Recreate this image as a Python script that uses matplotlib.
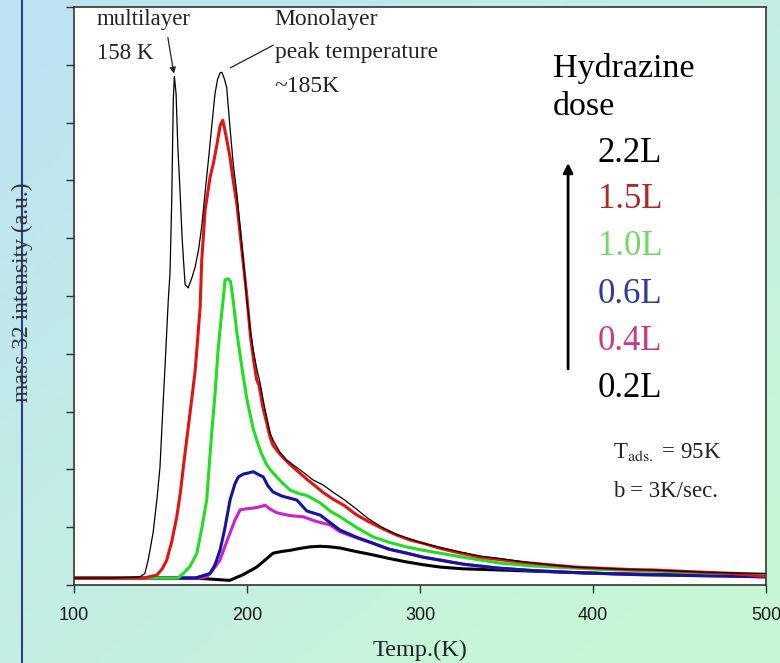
import numpy as np
import matplotlib
matplotlib.use("Agg")
import matplotlib.pyplot as plt
from matplotlib.lines import Line2D
from matplotlib.colors import to_rgb

plt.rcParams['font.family'] = ['Liberation Serif', 'DejaVu Serif']
plt.rcParams['mathtext.fontset'] = 'stix'

# TPD spectra, mass 32, for each hydrazine dose
T_22 = [100, 120, 138, 141, 143, 145.7, 148, 149.7, 151.6, 152.6, 154.5, 155.5, 156.5, 157.4, 158,
        159, 160, 161.3, 162.5, 164.2, 166, 168, 170, 172, 173.8, 175.8, 177.7, 179.5, 181.5, 183,
        184.4, 185.5, 187, 188.3, 190.2, 192, 194.1, 196, 197.9, 199.9, 202, 203.6, 205.6, 207.6, 210,
        213.4, 215, 219, 223, 228, 233, 238, 244, 250, 256, 263, 270, 278, 286, 294, 302, 312, 322,
        335, 346, 360, 375, 390, 405, 420, 435, 450, 465, 480, 500]
I_22 = [0.12, 0.12, 0.14, 0.2, 0.45, 0.9, 1.5, 2.04, 3.2, 3.77, 4.93, 5.4, 6.66, 8.4, 8.8,
        8.5, 7.6, 6.8, 6.0, 5.2, 5.14, 5.3, 5.5, 5.8, 6.2, 6.8, 7.35, 7.9, 8.5, 8.75,
        8.86, 8.87, 8.75, 8.6, 7.9, 7.3, 6.78, 6.2, 5.62, 4.93, 4.4, 4.07, 3.75, 3.49, 3.1,
        2.63, 2.51, 2.3, 2.16, 2.05, 1.94, 1.82, 1.73, 1.6, 1.48, 1.32, 1.15, 1.0, 0.88, 0.8, 0.72, 0.65, 0.58,
        0.5, 0.46, 0.4, 0.35, 0.31, 0.29, 0.27, 0.26, 0.24, 0.22, 0.21, 0.2]

T_15 = [100, 140, 147.8, 151, 153.6, 156.5, 159.4, 161.5, 163.2, 165.5, 168, 170, 171, 172.9, 173.8,
        175.8, 178.7, 180.6, 182.5, 184.5, 186, 187, 188, 190.2, 192, 194.1, 197, 199.9, 202, 204,
        205.6, 207, 209, 211, 213.4, 215, 218, 221, 225, 230, 235, 240, 244, 250, 256, 263, 270, 278,
        286, 294, 302, 312, 322, 335, 346, 360, 375, 390, 405, 420, 435, 450, 465, 480, 500]
I_15 = [0.12, 0.12, 0.17, 0.28, 0.43, 0.75, 1.18, 1.6, 2.04, 2.6, 3.2, 3.7, 4.07, 4.8, 5.6,
        6.49, 7.06, 7.3, 7.6, 7.95, 8.04, 7.9, 7.75, 7.4, 7.0, 6.6, 5.8, 5.0, 4.3, 3.85,
        3.55, 3.45, 3.1, 2.85, 2.55, 2.42, 2.3, 2.2, 2.08, 1.95, 1.82, 1.7, 1.6, 1.48, 1.38, 1.22, 1.1, 0.98,
        0.87, 0.78, 0.72, 0.63, 0.56, 0.48, 0.44, 0.39, 0.35, 0.31, 0.29, 0.27, 0.26, 0.24, 0.22, 0.2, 0.15]

T_10 = [100, 160, 163.2, 167, 171, 174, 176.7, 178, 179.6, 181.5, 183.3, 185, 186.2, 187.3, 189,
        190.5, 192, 194, 197, 200, 203.6, 205.6, 208, 211, 213.4, 215, 220, 225, 230, 234.6, 242.3,
        248, 253.8, 263, 273, 282, 292, 302, 311.7, 325, 346, 365, 385, 405, 425, 445, 465, 485, 500]
I_10 = [0.12, 0.12, 0.2, 0.32, 0.55, 1.0, 1.47, 2.0, 2.63, 3.3, 4.07, 4.6, 4.93, 5.28, 5.3,
        5.25, 4.93, 4.4, 3.77, 3.2, 2.7, 2.51, 2.3, 2.1, 2.0, 1.94, 1.78, 1.64, 1.58, 1.55, 1.42,
        1.28, 1.18, 1.0, 0.83, 0.74, 0.66, 0.6, 0.55, 0.48, 0.38, 0.33, 0.3, 0.27, 0.25, 0.23, 0.21, 0.2, 0.18]

T_06 = [100, 170, 178.7, 181.5, 184.4, 187, 190.2, 193, 195, 198, 201, 203.7, 206, 209.4, 212,
        215, 220, 228.8, 234.6, 242.3, 248, 253.8, 263, 273, 282, 292.4, 302, 311.7, 325, 346,
        365, 385, 405, 425, 445, 465, 485, 500]
I_06 = [0.12, 0.12, 0.2, 0.35, 0.6, 0.95, 1.47, 1.75, 1.87, 1.92, 1.94, 1.96, 1.92, 1.87, 1.72,
        1.61, 1.54, 1.47, 1.28, 1.21, 1.08, 0.95, 0.83, 0.72, 0.62, 0.55, 0.48, 0.43, 0.36, 0.29,
        0.25, 0.22, 0.2, 0.18, 0.17, 0.16, 0.15, 0.14]

T_04 = [100, 172, 176.7, 180, 184.4, 187, 190.2, 193, 196, 200, 203.6, 207, 210.5, 213, 217.2,
        225, 232.5, 240, 248, 253.8, 263, 273, 282, 292.4, 302, 311.7, 325, 346, 365, 385, 405,
        425, 445, 465, 485, 500]
I_04 = [0.12, 0.12, 0.14, 0.25, 0.43, 0.65, 0.9, 1.12, 1.3, 1.32, 1.33, 1.35, 1.38, 1.32, 1.25,
        1.2, 1.18, 1.1, 1.04, 0.92, 0.82, 0.72, 0.62, 0.55, 0.48, 0.43, 0.36, 0.29, 0.25, 0.22, 0.2,
        0.18, 0.17, 0.16, 0.15, 0.14]

T_02 = [100, 170, 180, 190, 197.8, 205.6, 210, 215, 220, 225, 230, 236.5, 242.3, 248, 253.8,
        263, 273, 282, 292, 302, 311.7, 325, 346, 365, 385, 405, 425, 445, 465, 485, 500]
I_02 = [0.12, 0.12, 0.1, 0.08, 0.18, 0.31, 0.42, 0.55, 0.58, 0.6, 0.63, 0.66, 0.67, 0.66, 0.64,
        0.58, 0.52, 0.46, 0.4, 0.35, 0.31, 0.28, 0.26, 0.24, 0.22, 0.2, 0.19, 0.18, 0.17, 0.16, 0.15]

doses = ['2.2L', '1.5L', '1.0L', '0.6L', '0.4L', '0.2L']
label_colors = ['black', '#b02828', '#7ad46a', '#2d3a9a', '#c8388f', 'black']

fig = plt.figure(figsize=(7.8, 6.63), dpi=100)

# gradient background, light blue top-left to light green bottom-right
bg = fig.add_axes([0, 0, 1, 1], zorder=-5)
gx, gy = np.meshgrid(np.linspace(0, 1, 200), np.linspace(0, 1, 200))
t = np.clip(0.55 * gx + 0.6 * gy, 0, 1)[..., None]
c1 = np.array(to_rgb('#bde2f4'))
c2 = np.array(to_rgb('#c8f7d6'))
bg.imshow(c1 * (1 - t) + c2 * t, extent=[0, 1, 0, 1], aspect='auto', origin='upper')
bg.axis('off')

ax = fig.add_axes([74 / 780, 78 / 663, 692 / 780, 578 / 663])
ax.set_facecolor('white')

ax.plot(T_02, I_02, color='black', lw=2.2)
ax.plot(T_04, I_04, color='#cc22cc', lw=2.2)
ax.plot(T_06, I_06, color='#1414a0', lw=2.2)
ax.plot(T_10, I_10, color='#22dd22', lw=2.2)
ax.plot(T_15, I_15, color='#e01414', lw=2.2)
ax.plot(T_22, I_22, color='black', lw=0.9)

ax.set_xlim(100, 500)
ax.set_ylim(0, 10)
ax.set_xticks([100, 200, 300, 400, 500])
ax.set_yticks(range(0, 11))
ax.set_yticklabels([])
ax.tick_params(direction='out', length=6, width=1, color='#333333')
ax.tick_params(axis='x', labelsize=13, pad=10)
for lab in ax.get_xticklabels():
    lab.set_family('Liberation Sans')
    lab.set_color('#1a1a1a')
for s in ax.spines.values():
    s.set_color('#333333')
    s.set_linewidth(1.2)

# peaks for the annotations
T22 = np.array(T_22)
I22 = np.array(I_22)
m = T22 < 163
i_multi = np.argmax(np.where(m, I22, 0))
i_mono = np.argmax(np.where(~m, I22, 0))

ax.text(0.033, 0.969, 'multilayer', transform=ax.transAxes, fontsize=16.5, color='#222222')
ax.text(0.033, 0.91, '158 K', transform=ax.transAxes, fontsize=16.5, color='#222222')
ax.annotate('', xy=(T22[i_multi], I22[i_multi]), xytext=(0.135, 0.952), textcoords='axes fraction',
            arrowprops=dict(arrowstyle='-|>', color='#222222', lw=0.9, mutation_scale=9))
ax.text(0.29, 0.969, 'Monolayer', transform=ax.transAxes, fontsize=17, color='#222222')
ax.text(0.29, 0.912, 'peak temperature', transform=ax.transAxes, fontsize=17, color='#222222')
ax.text(0.29, 0.853, '~185K', transform=ax.transAxes, fontsize=17, color='#222222')
ax.annotate('', xy=(T22[i_mono], I22[i_mono]), xytext=(0.288, 0.934), textcoords='axes fraction',
            arrowprops=dict(arrowstyle='-', color='#222222', lw=0.9, shrinkA=0, shrinkB=7))

ax.text(0.692, 0.879, 'Hydrazine', transform=ax.transAxes, fontsize=24.5)
ax.text(0.692, 0.813, 'dose', transform=ax.transAxes, fontsize=24.5)
ys = [0.732, 0.652, 0.571, 0.488, 0.407, 0.325]
for d, c, y in zip(doses, label_colors, ys):
    ax.text(0.757, y, d, transform=ax.transAxes, fontsize=25, color=c)
ax.annotate('', xy=(0.714, 0.735), xytext=(0.714, 0.369), xycoords='axes fraction',
            arrowprops=dict(arrowstyle='-|>', color='black', lw=2, mutation_scale=14))

ax.text(0.779, 0.22, r'T$_{\rm ads.}$ = 95K', transform=ax.transAxes, fontsize=16.5, color='#222222')
ax.text(0.779, 0.152, 'b = 3K/sec.', transform=ax.transAxes, fontsize=16.5, color='#222222')

fig.text(420 / 780, 1 - 656 / 663, 'Temp.(K)', ha='center', va='baseline', fontsize=17.5, color='#222222')
fig.text(22 / 780, 1 - 292 / 663, 'mass 32 intensity (a.u.)', rotation=90, ha='center', va='center',
         fontsize=17, color='#333333')
fig.add_artist(Line2D([22 / 780, 22 / 780], [0, 1], color='#2a3f86', lw=1.5))

fig.savefig('out.png', dpi=100)
